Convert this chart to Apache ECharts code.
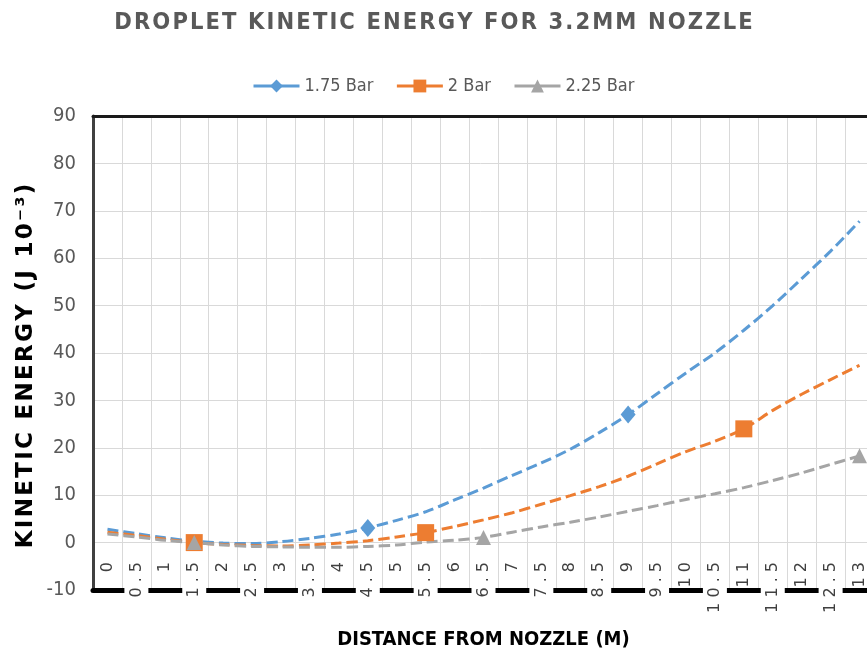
<!DOCTYPE html>
<html>
<head>
<meta charset="utf-8">
<script src="https://cdn.jsdelivr.net/npm/echarts@6/dist/echarts.min.js"></script>
<style>
  html, body { margin: 0; padding: 0; background: #fff; }
  #chart { width: 867px; height: 660px; }
</style>
</head>
<body>
<div id="chart"></div>
<script>
// ---- data ----
const categories = ['0','0.5','1','1.5','2','2.5','3','3.5','4','4.5','5','5.5','6','6.5','7','7.5','8','8.5','9','9.5','10','10.5','11','11.5','12','12.5','13'];
const bar175 = [2.8,1.9,1.0,0.3,-0.1,-0.2,0.2,0.9,1.8,3.1,4.7,6.5,9.0,11.5,14.2,16.8,19.7,23.2,27.0,31.4,35.8,40.0,44.8,50.0,55.7,61.5,67.8];
const bar2   = [2.2,1.5,0.7,0.0,-0.4,-0.6,-0.7,-0.5,-0.1,0.4,1.2,2.1,3.4,4.8,6.3,8.1,9.9,11.8,14.0,16.6,19.2,21.4,24.0,27.9,31.3,34.4,37.4];
const bar225 = [1.8,1.2,0.5,0.0,-0.5,-0.8,-0.9,-1.0,-1.0,-0.8,-0.5,0.1,0.5,1.1,2.2,3.3,4.3,5.4,6.6,7.8,9.1,10.3,11.6,13.1,14.7,16.5,18.3];
const marks175 = ['4.5','9'];
const marks2   = ['1.5','5.5','11'];
const marks225 = ['1.5','6.5','13'];
const seriesNames = ['1.75 Bar','2 Bar','2.25 Bar'];
const yMin = -10, yMax = 90, yStep = 10;

const titleText = 'DROPLET KINETIC ENERGY FOR 3.2MM NOZZLE';
const yTitle = 'KINETIC ENERGY (J 10\u207B\u00B3)';
const xTitle = 'DISTANCE FROM NOZZLE (M)';

const COND = '"DejaVu Sans Condensed", "DejaVu Sans", sans-serif';
const spaced = (s, sp) => s.split('').join(sp);

function buildData(vals, marks, sym) {
  return vals.map((v, i) => ({
    value: v,
    symbol: marks.indexOf(categories[i]) >= 0 ? sym : 'none'
  }));
}

function mkSeries(name, vals, marks, sym, size, color) {
  return {
    name: name,
    type: 'line',
    xAxisIndex: 0,
    yAxisIndex: 0,
    smooth: 0.3,
    showAllSymbol: true,
    symbol: sym,
    symbolSize: size,
    data: buildData(vals, marks, sym),
    lineStyle: { color: color, width: 3, type: [11, 5] },
    itemStyle: { color: color },
    emphasis: { disabled: true },
    z: 3
  };
}

const chart = echarts.init(document.getElementById('chart'), null, { renderer: 'canvas' });
chart.setOption({
  animation: false,
  backgroundColor: '#fff',
  title: {
    text: spaced(titleText, '\u200A'),
    left: 'center',
    top: 6,
    textStyle: { fontFamily: COND, fontSize: 23.5, fontWeight: 'bold', color: '#595959' }
  },
  legend: {
    top: 72,
    left: 247,
    itemWidth: 46,
    itemHeight: 16,
    itemGap: 22,
    data: seriesNames,
    lineStyle: { type: 'solid', width: 3 },
    textStyle: { fontFamily: COND, fontSize: 18, color: '#595959' }
  },
  grid: { left: 93, right: -7, top: 116, bottom: 70, containLabel: false, outerBoundsMode: 'none' },
  xAxis: [
    {
      type: 'category',
      data: categories,
      boundaryGap: true,
      position: 'bottom',
      axisLine: { show: true, onZero: false, lineStyle: { color: '#000', width: 5 } },
      axisTick: { show: false },
      splitLine: { show: true, interval: 0, lineStyle: { color: '#d9d9d9', width: 1 } },
      axisLabel: {
        interval: 0,
        rotate: 90,
        margin: -28,
        formatter: function (v) {
          const t = spaced(v, ' ');
          return v.indexOf('.') >= 0 ? '{b|' + t + '}' : '{a|' + t + '}';
        },
        rich: {
          a: { fontFamily: '"DejaVu Sans", sans-serif', fontSize: 16, color: '#404040' },
          b: { fontFamily: '"DejaVu Sans", sans-serif', fontSize: 16, color: '#404040',
               backgroundColor: '#fff', padding: [4, 0, 4, 0] }
        }
      },
      name: xTitle,
      nameLocation: 'middle',
      nameGap: 40,
      nameMoveOverlap: false,
      nameTextStyle: { fontFamily: COND, fontSize: 20, fontWeight: 'bold', color: '#000' }
    },
    {
      type: 'category',
      data: categories,
      position: 'top',
      axisLine: { show: true, onZero: false, lineStyle: { color: '#1a1a1a', width: 3 } },
      axisTick: { show: false },
      axisLabel: { show: false },
      splitLine: { show: false }
    }
  ],
  yAxis: {
    type: 'value',
    min: yMin,
    max: yMax,
    interval: yStep,
    axisLine: { show: true, lineStyle: { color: '#404040', width: 3 } },
    axisTick: { show: false },
    splitLine: { show: true, lineStyle: { color: '#d9d9d9', width: 1 } },
    axisLabel: { fontFamily: COND, fontSize: 20, color: '#595959', margin: 17 },
    name: spaced(yTitle, '\u200A'),
    nameLocation: 'middle',
    nameRotate: 90,
    nameGap: 55,
    nameMoveOverlap: false,
    nameTextStyle: { fontFamily: '"DejaVu Sans", sans-serif', fontSize: 23, fontWeight: 'bold', color: '#000',
                     padding: [0, 26, 0, 0] }
  },
  series: [
    mkSeries(seriesNames[0], bar175, marks175, 'diamond', [15, 18], '#5B9BD5'),
    mkSeries(seriesNames[1], bar2, marks2, 'rect', 17, '#ED7D31'),
    mkSeries(seriesNames[2], bar225, marks225, 'triangle', 15, '#A5A5A5')
  ]
});
</script>
</body>
</html>
